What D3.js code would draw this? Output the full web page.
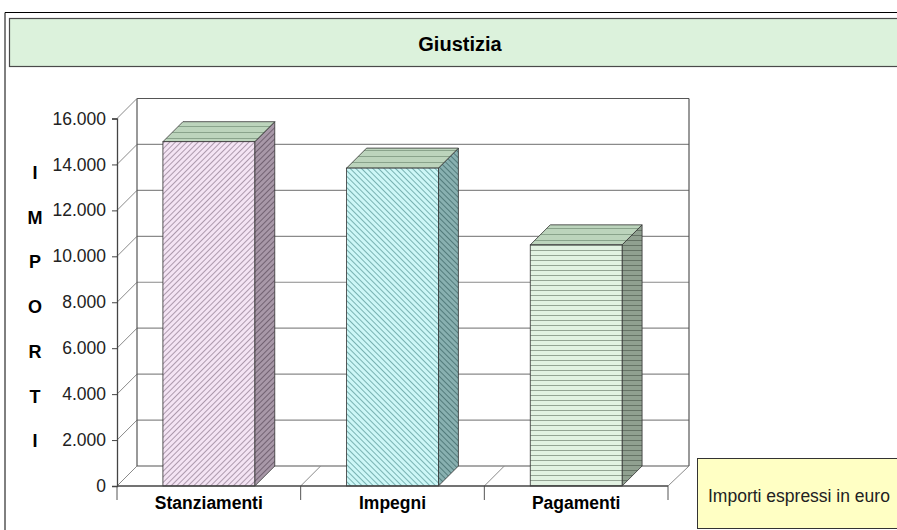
<!DOCTYPE html>
<html>
<head>
<meta charset="utf-8">
<script src="https://cdn.jsdelivr.net/npm/d3@7"></script>
<style>
  body { margin: 0; background: #fff; }
  svg { display: block; font-family: Arial, "Liberation Sans", sans-serif; }
</style>
</head>
<body>
<div id="chart"></div>
<script>
// data
const categories = ["Stanziamenti", "Impegni", "Pagamenti"]
const values = [14990, 13840, 10500]
const yTicks = [0, 2000, 4000, 6000, 8000, 10000, 12000, 14000, 16000]
const axisLetters = ["I", "M", "P", "O", "R", "T", "I"]
const title = "Giustizia"
const note = "Importi espressi in euro"

const W = 897, H = 530
const depth = { dx: 20, dy: -20 }   // 3d offset of the back wall

const svg = d3.select("#chart").append("svg")
    .attr("width", W).attr("height", H)

// patterns for the bars
const defs = svg.append("defs")
function hatch(id, bg, fg, angle, gap, sw) {
    const p = defs.append("pattern")
        .attr("id", id).attr("patternUnits", "userSpaceOnUse")
        .attr("width", gap).attr("height", gap)
        .attr("patternTransform", `rotate(${angle})`)
    p.append("rect").attr("width", gap).attr("height", gap).attr("fill", bg)
    p.append("line").attr("x1", 0).attr("y1", 0).attr("x2", 0).attr("y2", gap)
        .attr("stroke", fg).attr("stroke-width", sw)
}
hatch("front0", "#f4e4f4", "#8e7a8e", 45, 4, 1.4)
hatch("side0", "#a898a8", "#5a4a5a", 45, 4, 1.4)
hatch("front1", "#cdf7f7", "#559494", -45, 4, 1.4)
hatch("side1", "#88b0b0", "#3a6464", -45, 4, 1.4)
hatch("front2", "#e2f2e2", "#485848", 90, 5, 1)
hatch("side2", "#90a090", "#3a463a", 90, 5, 1)
hatch("top", "#bcd4bc", "#66826a", 90, 6, 1.2)

// outer frame
svg.append("path").attr("d", `M5,${H} V12.5 H${W}`)
    .attr("fill", "none").attr("stroke", "#000").attr("stroke-width", 1)

// title box
svg.append("rect").attr("x", 9.5).attr("y", 18.5).attr("width", W).attr("height", 48)
    .attr("fill", "#dcf2dc").attr("stroke", "#4a4a4a").attr("stroke-width", 1.2)
svg.append("text").text(title)
    .attr("x", 460).attr("y", 51)
    .attr("text-anchor", "middle")
    .style("font-size", "20px").style("font-weight", "bold")

// scales
const x = d3.scaleBand().domain(categories).range([117, 668])
const y = d3.scaleLinear().domain([0, 16000]).range([486, 118.5])

const g = svg.append("g")

// back wall grid lines and left wall diagonals
yTicks.forEach(function (t) {
    g.append("line")
        .attr("x1", x.range()[0] + depth.dx).attr("x2", x.range()[1] + depth.dx + 1)
        .attr("y1", y(t) + depth.dy).attr("y2", y(t) + depth.dy)
        .attr("stroke", t === 0 || t === 16000 ? "#555" : "#8a8a8a").attr("stroke-width", 1.2)
    g.append("line")
        .attr("x1", x.range()[0]).attr("y1", y(t))
        .attr("x2", x.range()[0] + depth.dx).attr("y2", y(t) + depth.dy)
        .attr("stroke", "#8a8a8a").attr("stroke-width", 1)
})

// back wall verticals
g.append("line")
    .attr("x1", x.range()[0] + depth.dx).attr("x2", x.range()[0] + depth.dx)
    .attr("y1", y(16000) + depth.dy).attr("y2", y(0) + depth.dy)
    .attr("stroke", "#555").attr("stroke-width", 1.2)
g.append("line")
    .attr("x1", x.range()[1] + depth.dx + 1).attr("x2", x.range()[1] + depth.dx + 1)
    .attr("y1", y(16000) + depth.dy).attr("y2", y(0) + depth.dy)
    .attr("stroke", "#555").attr("stroke-width", 1.2)

// floor diagonals at category boundaries
const bounds = categories.map(c => x(c)).concat([x.range()[1]])
bounds.forEach(function (b, i) {
    g.append("line")
        .attr("x1", b).attr("y1", y(0))
        .attr("x2", b + depth.dx + (i === bounds.length - 1 ? 1 : 0)).attr("y2", y(0) + depth.dy)
        .attr("stroke", "#8a8a8a").attr("stroke-width", 1)
    g.append("line")
        .attr("x1", b).attr("x2", b).attr("y1", y(0)).attr("y2", y(0) + 14)
        .attr("stroke", "#555").attr("stroke-width", 1)
})

// bars
const bw = x.bandwidth() * 0.5
const bars = g.selectAll(".bar").data(categories).join("g").attr("class", "bar")

bars.append("path")
    .attr("d", function (c, i) {
        const x0 = x(c) + x.bandwidth() / 4 + bw, yt = y(values[i]), yb = y(0)
        return `M${x0},${yt} L${x0 + depth.dx},${yt + depth.dy} L${x0 + depth.dx},${yb + depth.dy} L${x0},${yb} Z`
    })
    .attr("fill", (c, i) => `url(#side${i})`)
    .attr("stroke", "#333").attr("stroke-width", 0.8)

bars.append("path")
    .attr("d", function (c, i) {
        const x0 = x(c) + x.bandwidth() / 4, yt = y(values[i])
        return `M${x0},${yt} L${x0 + bw},${yt} L${x0 + bw + depth.dx},${yt + depth.dy} L${x0 + depth.dx},${yt + depth.dy} Z`
    })
    .attr("fill", "url(#top)")
    .attr("stroke", "#333").attr("stroke-width", 0.8)

bars.append("rect")
    .attr("x", c => x(c) + x.bandwidth() / 4)
    .attr("y", (c, i) => y(values[i]))
    .attr("width", bw)
    .attr("height", (c, i) => y(0) - y(values[i]))
    .attr("fill", (c, i) => `url(#front${i})`)
    .attr("stroke", "#333").attr("stroke-width", 0.8)

// y axis
const yAxis = svg.append("g")
    .attr("transform", `translate(${x.range()[0]},0)`)
    .call(d3.axisLeft(y).tickValues(yTicks).tickSize(5).tickPadding(6)
        .tickFormat(d => d3.format(",")(d).replace(/,/g, ".")))
yAxis.select(".domain").attr("stroke", "#444").attr("stroke-width", 1.3)
yAxis.selectAll(".tick line").attr("stroke", "#444")
yAxis.selectAll(".tick text").attr("fill", "#222").style("font-size", "17.5px")

// x axis line
svg.append("line")
    .attr("x1", x.range()[0]).attr("x2", x.range()[1])
    .attr("y1", y(0)).attr("y2", y(0))
    .attr("stroke", "#444").attr("stroke-width", 1.3)

// category labels
svg.selectAll(".cat").data(categories).join("text")
    .attr("class", "cat")
    .attr("x", c => x(c) + x.bandwidth() / 2)
    .attr("y", 509)
    .attr("text-anchor", "middle")
    .style("font-size", "17.5px").style("font-weight", "bold")
    .text(c => c)

// vertical axis title, one letter per row
svg.selectAll(".letter").data(axisLetters).join("text")
    .attr("class", "letter")
    .attr("x", 35).attr("y", (d, i) => 179 + i * 44.7)
    .attr("text-anchor", "middle")
    .style("font-size", "18px").style("font-weight", "bold")
    .text(d => d)

// note box
svg.append("rect").attr("x", 697.5).attr("y", 458.5).attr("width", 220).attr("height", 70)
    .attr("fill", "#ffffc4").attr("stroke", "#333").attr("stroke-width", 1)
svg.append("text").text(note)
    .attr("x", 708).attr("y", 502)
    .style("font-size", "17.5px").attr("fill", "#222")
</script>
</body>
</html>
